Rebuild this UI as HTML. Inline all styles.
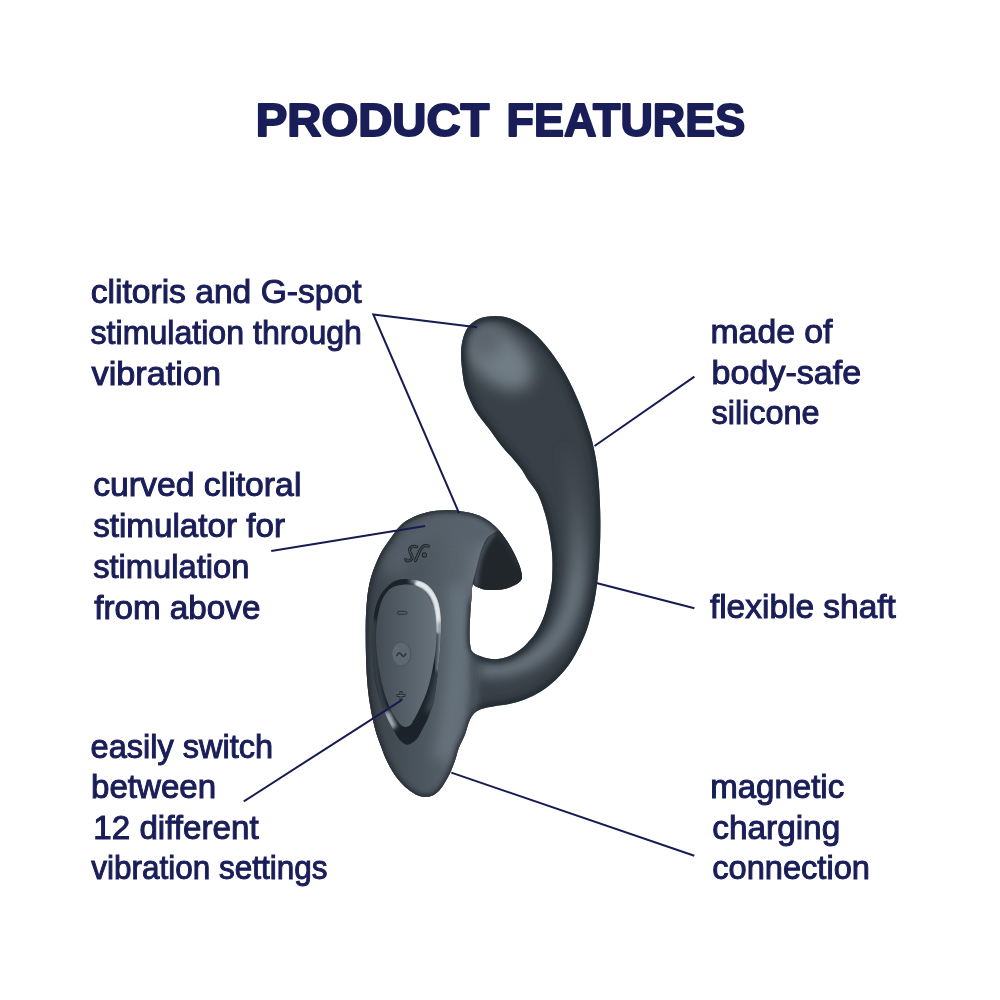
<!DOCTYPE html>
<html><head><meta charset="utf-8"><title>Product Features</title>
<style>
html,body{margin:0;padding:0;background:#fff;}
body{width:1000px;height:1000px;overflow:hidden;}
svg{display:block;}
.ttl{font-family:"Liberation Sans",sans-serif;font-weight:bold;font-size:47px;fill:#1a1e58;stroke:#1a1e58;stroke-width:2px;stroke-linejoin:round;}
.lb{font-family:"Liberation Sans",sans-serif;font-size:32.5px;fill:#1a1e58;stroke:#1a1e58;stroke-width:1px;}
</style></head><body>
<svg width="1000" height="1000" viewBox="0 0 1000 1000">
<defs>
<clipPath id="silc"><path d="M495.0,316.1 C500.3,316.1 505.7,316.9 511.0,318.8 C516.3,320.7 521.9,324.0 527.0,327.6 C532.1,331.2 536.9,335.6 541.4,340.4 C545.9,345.2 550.2,350.8 554.2,356.4 C558.2,362.0 561.9,367.9 565.4,374.0 C568.9,380.1 572.1,386.8 575.0,393.2 C577.9,399.6 580.6,406.0 583.0,412.4 C585.4,418.8 587.6,425.8 589.4,431.6 C591.2,437.4 592.3,441.3 593.6,447.2 C594.9,453.1 596.2,459.2 597.2,467.0 C598.2,474.8 599.0,485.0 599.5,494.0 C600.0,503.0 600.3,512.0 600.4,521.0 C600.5,530.0 600.3,539.0 599.9,548.0 C599.5,557.0 599.0,566.5 598.1,575.0 C597.2,583.5 596.0,592.2 594.8,599.0 C593.6,605.8 592.3,610.5 590.8,616.0 C589.3,621.5 588.1,626.4 586.0,632.0 C583.9,637.6 580.9,644.0 578.0,649.6 C575.1,655.2 572.1,660.5 568.4,665.6 C564.7,670.7 560.1,675.7 555.6,680.0 C551.1,684.3 546.3,688.0 541.2,691.2 C536.1,694.4 530.5,697.1 525.2,699.2 C519.9,701.3 514.5,702.8 509.2,704.0 C503.9,705.2 497.7,705.6 493.2,706.4 C488.7,707.2 485.2,707.6 482.0,708.8 C478.8,710.0 476.1,711.5 474.0,713.6 C471.9,715.7 470.7,718.2 469.2,721.6 C467.7,725.0 466.9,729.6 465.2,734.0 C463.5,738.4 460.5,743.7 458.8,748.0 C457.1,752.3 456.5,756.3 455.2,760.0 C453.9,763.7 452.5,767.3 451.2,770.4 C449.9,773.5 448.7,775.7 447.2,778.4 C445.7,781.1 444.1,784.0 442.4,786.4 C440.7,788.8 438.7,791.2 436.8,792.8 C434.9,794.4 433.2,795.3 431.2,796.0 C429.2,796.7 427.1,796.9 424.8,796.8 C422.5,796.7 420.1,796.3 417.6,795.2 C415.1,794.1 412.4,792.5 409.6,790.4 C406.8,788.3 403.6,785.5 400.8,782.4 C398.0,779.3 395.2,775.7 392.8,772.0 C390.4,768.3 388.3,764.0 386.4,760.0 C384.5,756.0 383.5,753.3 381.6,748.0 C379.7,742.7 376.8,735.8 374.8,728.0 C372.8,720.2 370.8,710.0 369.4,701.0 C368.0,692.0 367.3,683.0 366.7,674.0 C366.1,665.0 365.9,656.0 365.8,647.0 C365.7,638.0 365.6,627.8 365.8,620.0 C366.0,612.2 366.5,605.3 367.0,600.0 C367.5,594.7 367.9,592.0 368.6,588.0 C369.3,584.0 370.2,580.0 371.4,576.0 C372.6,572.0 374.1,568.0 375.8,564.0 C377.5,560.0 379.1,556.0 381.4,552.0 C383.7,548.0 386.2,544.5 389.4,540.0 C392.6,535.5 396.7,529.1 400.8,525.2 C404.9,521.3 409.4,519.0 414.0,516.8 C418.6,514.6 423.4,513.1 428.4,512.0 C433.4,510.9 439.1,510.4 444.0,510.2 C448.9,510.0 452.7,510.1 458.0,510.8 C463.3,511.5 471.0,512.8 476.0,514.4 C481.0,516.0 484.4,518.0 488.0,520.4 C491.6,522.8 494.6,525.6 497.6,528.8 C500.6,532.0 503.4,535.8 506.0,539.6 C508.6,543.4 511.0,547.4 513.2,551.6 C515.4,555.8 517.8,561.0 519.2,564.8 C520.6,568.6 521.4,571.9 521.8,574.4 C522.2,576.9 522.2,577.9 521.4,579.5 C520.6,581.1 519.2,582.5 516.8,584.0 C514.4,585.5 510.8,587.2 507.2,588.2 C503.6,589.2 499.0,589.8 495.2,590.0 C491.4,590.2 487.6,590.0 484.4,589.4 C481.2,588.8 478.0,587.2 476.0,586.4 C474.0,585.6 473.3,582.9 472.6,584.5 C471.9,586.1 471.9,592.1 471.6,596.0 C471.3,599.9 470.9,604.0 470.6,608.0 C470.3,612.0 470.2,615.8 470.0,620.0 C469.8,624.2 469.6,628.8 469.6,633.0 C469.6,637.2 469.7,641.8 470.2,645.0 C470.7,648.2 470.6,650.0 472.6,652.0 C474.6,654.0 478.3,655.6 482.0,656.8 C485.7,658.0 490.5,659.2 494.8,659.2 C499.1,659.2 503.3,658.4 507.6,656.8 C511.9,655.2 516.5,652.6 520.4,649.6 C524.3,646.6 528.1,642.3 531.0,639.0 C533.9,635.7 535.6,633.2 537.5,630.0 C539.4,626.8 541.1,623.3 542.5,620.0 C543.9,616.7 545.0,613.5 546.0,610.0 C547.0,606.5 548.0,602.7 548.8,599.0 C549.6,595.3 550.4,591.7 551.0,588.0 C551.6,584.3 552.0,582.3 552.2,576.8 C552.4,571.3 552.7,562.4 552.2,555.2 C551.8,548.0 550.7,540.5 549.5,533.6 C548.3,526.7 547.0,520.4 545.0,513.8 C543.0,507.2 540.6,499.6 537.8,494.0 C535.0,488.4 530.6,484.0 528.0,480.0 C525.4,476.0 524.3,473.3 522.0,470.0 C519.7,466.7 516.8,463.3 514.0,460.0 C511.2,456.7 507.8,453.3 505.0,450.0 C502.2,446.7 499.5,443.3 497.0,440.0 C494.5,436.7 492.5,433.3 490.0,430.0 C487.5,426.7 484.5,423.3 482.0,420.0 C479.5,416.7 477.0,413.3 475.0,410.0 C473.0,406.7 471.5,403.3 470.0,400.0 C468.5,396.7 467.1,393.3 466.0,390.0 C464.9,386.7 464.3,385.3 463.5,380.0 C462.7,374.7 461.3,364.3 461.1,358.0 C460.9,351.7 461.1,347.1 462.2,342.0 C463.3,336.9 465.0,331.5 467.8,327.6 C470.6,323.7 474.5,320.7 479.0,318.8 C483.5,316.9 489.7,316.1 495.0,316.1Z"/></clipPath>
<clipPath id="rimc"><path d="M408.0,579.0 C412.2,579.0 416.3,579.7 420.0,581.0 C423.7,582.3 427.2,584.2 430.0,587.0 C432.8,589.8 435.2,593.8 437.0,598.0 C438.8,602.2 439.8,606.7 440.5,612.0 C441.2,617.3 441.1,623.7 441.0,630.0 C440.9,636.3 440.5,643.3 440.0,650.0 C439.5,656.7 439.0,661.7 438.0,670.0 C437.0,678.3 435.7,692.0 434.0,700.0 C432.3,708.0 430.3,712.3 428.0,718.0 C425.7,723.7 421.9,730.4 420.0,734.0 C418.1,737.6 417.6,738.0 416.3,739.5 C415.0,741.0 413.3,742.1 412.0,743.0 C410.7,743.9 409.7,744.4 408.5,744.6 C407.3,744.8 406.3,744.6 405.0,744.0 C403.7,743.4 402.1,742.3 400.8,741.0 C399.5,739.7 399.1,739.5 397.0,736.0 C394.9,732.5 390.8,726.0 388.0,720.0 C385.2,714.0 382.2,706.7 380.0,700.0 C377.8,693.3 376.2,687.5 375.0,680.0 C373.8,672.5 373.4,662.5 373.0,655.0 C372.6,647.5 372.3,641.7 372.5,635.0 C372.7,628.3 373.1,620.8 374.0,615.0 C374.9,609.2 376.2,604.3 378.0,600.0 C379.8,595.7 382.2,592.2 385.0,589.0 C387.8,585.8 391.2,582.7 395.0,581.0 C398.8,579.3 403.8,579.0 408.0,579.0Z"/></clipPath>
<mask id="shaftm" maskUnits="userSpaceOnUse" x="340" y="270" width="320" height="560"><rect x="340" y="270" width="320" height="560" fill="#000"/><path d="M440,270 L660,270 L660,740 L476,740 L476,640 L535,600 L530,480 L440,440Z" fill="#fff" filter="url(#b4)"/></mask>
<mask id="basem" maskUnits="userSpaceOnUse" x="340" y="270" width="320" height="560"><rect x="340" y="270" width="320" height="560" fill="#fff"/><path d="M440,270 L660,270 L660,740 L476,740 L476,640 L535,600 L530,480 L440,440Z" fill="#000" filter="url(#b4)"/></mask>
<clipPath id="underc"><path d="M492.8,533.6 C495.0,532.4 497.8,530.0 500.0,531.0 C502.2,532.0 503.8,536.2 506.0,539.6 C508.2,543.0 511.0,547.4 513.2,551.6 C515.4,555.8 517.8,561.0 519.2,564.8 C520.6,568.6 521.4,571.9 521.8,574.4 C522.2,576.9 522.2,577.9 521.4,579.5 C520.6,581.1 519.2,582.5 516.8,584.0 C514.4,585.5 510.8,587.2 507.2,588.2 C503.6,589.2 499.0,589.8 495.2,590.0 C491.4,590.2 487.6,590.0 484.4,589.4 C481.2,588.8 478.0,587.2 476.0,586.4 C474.0,585.6 472.7,586.9 472.6,584.5 C472.5,582.1 474.4,576.1 475.4,572.0 C476.4,567.9 477.3,564.0 478.4,560.0 C479.5,556.0 480.6,551.6 482.0,548.0 C483.4,544.4 485.0,540.8 486.8,538.4 C488.6,536.0 490.6,534.8 492.8,533.6Z"/></clipPath>
<filter id="b1" x="-150%" y="-150%" width="400%" height="400%"><feGaussianBlur stdDeviation="0.9"/></filter>
<filter id="b2" x="-150%" y="-150%" width="400%" height="400%"><feGaussianBlur stdDeviation="2"/></filter>
<filter id="b3" x="-150%" y="-150%" width="400%" height="400%"><feGaussianBlur stdDeviation="3"/></filter>
<filter id="b4" x="-150%" y="-150%" width="400%" height="400%"><feGaussianBlur stdDeviation="4"/></filter>
<filter id="b6" x="-150%" y="-150%" width="400%" height="400%"><feGaussianBlur stdDeviation="6"/></filter>
<filter id="b8" x="-150%" y="-150%" width="400%" height="400%"><feGaussianBlur stdDeviation="8"/></filter>
<filter id="b10" x="-150%" y="-150%" width="400%" height="400%"><feGaussianBlur stdDeviation="10"/></filter>
<linearGradient id="baseg" gradientUnits="userSpaceOnUse" x1="366" y1="0" x2="478" y2="0"><stop offset="0" stop-color="#394148"/><stop offset="0.45" stop-color="#4a545c"/><stop offset="1" stop-color="#606b74"/></linearGradient>
<linearGradient id="bandg" gradientUnits="userSpaceOnUse" x1="0" y1="440" x2="0" y2="585"><stop offset="0" stop-color="#66727b" stop-opacity="0"/><stop offset="0.45" stop-color="#66727b" stop-opacity="0.3"/><stop offset="1" stop-color="#66727b" stop-opacity="1"/></linearGradient>
<linearGradient id="pang" gradientUnits="userSpaceOnUse" x1="376" y1="0" x2="437" y2="0"><stop offset="0" stop-color="#434c55"/><stop offset="1" stop-color="#68737c"/></linearGradient>
</defs>
<rect width="1000" height="1000" fill="#fff"/>
<path d="M495.0,316.1 C500.3,316.1 505.7,316.9 511.0,318.8 C516.3,320.7 521.9,324.0 527.0,327.6 C532.1,331.2 536.9,335.6 541.4,340.4 C545.9,345.2 550.2,350.8 554.2,356.4 C558.2,362.0 561.9,367.9 565.4,374.0 C568.9,380.1 572.1,386.8 575.0,393.2 C577.9,399.6 580.6,406.0 583.0,412.4 C585.4,418.8 587.6,425.8 589.4,431.6 C591.2,437.4 592.3,441.3 593.6,447.2 C594.9,453.1 596.2,459.2 597.2,467.0 C598.2,474.8 599.0,485.0 599.5,494.0 C600.0,503.0 600.3,512.0 600.4,521.0 C600.5,530.0 600.3,539.0 599.9,548.0 C599.5,557.0 599.0,566.5 598.1,575.0 C597.2,583.5 596.0,592.2 594.8,599.0 C593.6,605.8 592.3,610.5 590.8,616.0 C589.3,621.5 588.1,626.4 586.0,632.0 C583.9,637.6 580.9,644.0 578.0,649.6 C575.1,655.2 572.1,660.5 568.4,665.6 C564.7,670.7 560.1,675.7 555.6,680.0 C551.1,684.3 546.3,688.0 541.2,691.2 C536.1,694.4 530.5,697.1 525.2,699.2 C519.9,701.3 514.5,702.8 509.2,704.0 C503.9,705.2 497.7,705.6 493.2,706.4 C488.7,707.2 485.2,707.6 482.0,708.8 C478.8,710.0 476.1,711.5 474.0,713.6 C471.9,715.7 470.7,718.2 469.2,721.6 C467.7,725.0 466.9,729.6 465.2,734.0 C463.5,738.4 460.5,743.7 458.8,748.0 C457.1,752.3 456.5,756.3 455.2,760.0 C453.9,763.7 452.5,767.3 451.2,770.4 C449.9,773.5 448.7,775.7 447.2,778.4 C445.7,781.1 444.1,784.0 442.4,786.4 C440.7,788.8 438.7,791.2 436.8,792.8 C434.9,794.4 433.2,795.3 431.2,796.0 C429.2,796.7 427.1,796.9 424.8,796.8 C422.5,796.7 420.1,796.3 417.6,795.2 C415.1,794.1 412.4,792.5 409.6,790.4 C406.8,788.3 403.6,785.5 400.8,782.4 C398.0,779.3 395.2,775.7 392.8,772.0 C390.4,768.3 388.3,764.0 386.4,760.0 C384.5,756.0 383.5,753.3 381.6,748.0 C379.7,742.7 376.8,735.8 374.8,728.0 C372.8,720.2 370.8,710.0 369.4,701.0 C368.0,692.0 367.3,683.0 366.7,674.0 C366.1,665.0 365.9,656.0 365.8,647.0 C365.7,638.0 365.6,627.8 365.8,620.0 C366.0,612.2 366.5,605.3 367.0,600.0 C367.5,594.7 367.9,592.0 368.6,588.0 C369.3,584.0 370.2,580.0 371.4,576.0 C372.6,572.0 374.1,568.0 375.8,564.0 C377.5,560.0 379.1,556.0 381.4,552.0 C383.7,548.0 386.2,544.5 389.4,540.0 C392.6,535.5 396.7,529.1 400.8,525.2 C404.9,521.3 409.4,519.0 414.0,516.8 C418.6,514.6 423.4,513.1 428.4,512.0 C433.4,510.9 439.1,510.4 444.0,510.2 C448.9,510.0 452.7,510.1 458.0,510.8 C463.3,511.5 471.0,512.8 476.0,514.4 C481.0,516.0 484.4,518.0 488.0,520.4 C491.6,522.8 494.6,525.6 497.6,528.8 C500.6,532.0 503.4,535.8 506.0,539.6 C508.6,543.4 511.0,547.4 513.2,551.6 C515.4,555.8 517.8,561.0 519.2,564.8 C520.6,568.6 521.4,571.9 521.8,574.4 C522.2,576.9 522.2,577.9 521.4,579.5 C520.6,581.1 519.2,582.5 516.8,584.0 C514.4,585.5 510.8,587.2 507.2,588.2 C503.6,589.2 499.0,589.8 495.2,590.0 C491.4,590.2 487.6,590.0 484.4,589.4 C481.2,588.8 478.0,587.2 476.0,586.4 C474.0,585.6 473.3,582.9 472.6,584.5 C471.9,586.1 471.9,592.1 471.6,596.0 C471.3,599.9 470.9,604.0 470.6,608.0 C470.3,612.0 470.2,615.8 470.0,620.0 C469.8,624.2 469.6,628.8 469.6,633.0 C469.6,637.2 469.7,641.8 470.2,645.0 C470.7,648.2 470.6,650.0 472.6,652.0 C474.6,654.0 478.3,655.6 482.0,656.8 C485.7,658.0 490.5,659.2 494.8,659.2 C499.1,659.2 503.3,658.4 507.6,656.8 C511.9,655.2 516.5,652.6 520.4,649.6 C524.3,646.6 528.1,642.3 531.0,639.0 C533.9,635.7 535.6,633.2 537.5,630.0 C539.4,626.8 541.1,623.3 542.5,620.0 C543.9,616.7 545.0,613.5 546.0,610.0 C547.0,606.5 548.0,602.7 548.8,599.0 C549.6,595.3 550.4,591.7 551.0,588.0 C551.6,584.3 552.0,582.3 552.2,576.8 C552.4,571.3 552.7,562.4 552.2,555.2 C551.8,548.0 550.7,540.5 549.5,533.6 C548.3,526.7 547.0,520.4 545.0,513.8 C543.0,507.2 540.6,499.6 537.8,494.0 C535.0,488.4 530.6,484.0 528.0,480.0 C525.4,476.0 524.3,473.3 522.0,470.0 C519.7,466.7 516.8,463.3 514.0,460.0 C511.2,456.7 507.8,453.3 505.0,450.0 C502.2,446.7 499.5,443.3 497.0,440.0 C494.5,436.7 492.5,433.3 490.0,430.0 C487.5,426.7 484.5,423.3 482.0,420.0 C479.5,416.7 477.0,413.3 475.0,410.0 C473.0,406.7 471.5,403.3 470.0,400.0 C468.5,396.7 467.1,393.3 466.0,390.0 C464.9,386.7 464.3,385.3 463.5,380.0 C462.7,374.7 461.3,364.3 461.1,358.0 C460.9,351.7 461.1,347.1 462.2,342.0 C463.3,336.9 465.0,331.5 467.8,327.6 C470.6,323.7 474.5,320.7 479.0,318.8 C483.5,316.9 489.7,316.1 495.0,316.1Z" fill="#394047"/>
<g clip-path="url(#silc)">
<g mask="url(#basem)"><rect x="350" y="490" width="190" height="330" fill="url(#baseg)"/></g>
<ellipse cx="499" cy="358" rx="40" ry="25" transform="rotate(42 499 358)" fill="#717d85" filter="url(#b8)"/>
<ellipse cx="484" cy="338" rx="18" ry="20" fill="#5b656d" filter="url(#b8)"/>
<path d="M562,430 C570,460 576,495 577.5,530 C579,555 579,577 573,600 C566,628 550,650 528,661 C512,668 495,670 480,668" fill="none" stroke="url(#bandg)" stroke-width="18" filter="url(#b6)"/>
<path d="M392,575 C400,540 430,522 458,524 C474,526 484,534 488,548 C488,560 476,580 474,600" fill="none" stroke="#56616a" stroke-width="22" filter="url(#b8)"/>
<path d="M460,585 C461,650 458,700 444,760" fill="none" stroke="#65717a" stroke-width="22" filter="url(#b6)"/>
<path d="M473,655 C474,680 474,700 470,715" fill="none" stroke="#394148" stroke-width="4" filter="url(#b3)"/>
<g mask="url(#shaftm)"><path d="M495.0,316.1 C500.3,316.1 505.7,316.9 511.0,318.8 C516.3,320.7 521.9,324.0 527.0,327.6 C532.1,331.2 536.9,335.6 541.4,340.4 C545.9,345.2 550.2,350.8 554.2,356.4 C558.2,362.0 561.9,367.9 565.4,374.0 C568.9,380.1 572.1,386.8 575.0,393.2 C577.9,399.6 580.6,406.0 583.0,412.4 C585.4,418.8 587.6,425.8 589.4,431.6 C591.2,437.4 592.3,441.3 593.6,447.2 C594.9,453.1 596.2,459.2 597.2,467.0 C598.2,474.8 599.0,485.0 599.5,494.0 C600.0,503.0 600.3,512.0 600.4,521.0 C600.5,530.0 600.3,539.0 599.9,548.0 C599.5,557.0 599.0,566.5 598.1,575.0 C597.2,583.5 596.0,592.2 594.8,599.0 C593.6,605.8 592.3,610.5 590.8,616.0 C589.3,621.5 588.1,626.4 586.0,632.0 C583.9,637.6 580.9,644.0 578.0,649.6 C575.1,655.2 572.1,660.5 568.4,665.6 C564.7,670.7 560.1,675.7 555.6,680.0 C551.1,684.3 546.3,688.0 541.2,691.2 C536.1,694.4 530.5,697.1 525.2,699.2 C519.9,701.3 514.5,702.8 509.2,704.0 C503.9,705.2 497.7,705.6 493.2,706.4 C488.7,707.2 485.2,707.6 482.0,708.8 C478.8,710.0 476.1,711.5 474.0,713.6 C471.9,715.7 470.7,718.2 469.2,721.6 C467.7,725.0 466.9,729.6 465.2,734.0 C463.5,738.4 460.5,743.7 458.8,748.0 C457.1,752.3 456.5,756.3 455.2,760.0 C453.9,763.7 452.5,767.3 451.2,770.4 C449.9,773.5 448.7,775.7 447.2,778.4 C445.7,781.1 444.1,784.0 442.4,786.4 C440.7,788.8 438.7,791.2 436.8,792.8 C434.9,794.4 433.2,795.3 431.2,796.0 C429.2,796.7 427.1,796.9 424.8,796.8 C422.5,796.7 420.1,796.3 417.6,795.2 C415.1,794.1 412.4,792.5 409.6,790.4 C406.8,788.3 403.6,785.5 400.8,782.4 C398.0,779.3 395.2,775.7 392.8,772.0 C390.4,768.3 388.3,764.0 386.4,760.0 C384.5,756.0 383.5,753.3 381.6,748.0 C379.7,742.7 376.8,735.8 374.8,728.0 C372.8,720.2 370.8,710.0 369.4,701.0 C368.0,692.0 367.3,683.0 366.7,674.0 C366.1,665.0 365.9,656.0 365.8,647.0 C365.7,638.0 365.6,627.8 365.8,620.0 C366.0,612.2 366.5,605.3 367.0,600.0 C367.5,594.7 367.9,592.0 368.6,588.0 C369.3,584.0 370.2,580.0 371.4,576.0 C372.6,572.0 374.1,568.0 375.8,564.0 C377.5,560.0 379.1,556.0 381.4,552.0 C383.7,548.0 386.2,544.5 389.4,540.0 C392.6,535.5 396.7,529.1 400.8,525.2 C404.9,521.3 409.4,519.0 414.0,516.8 C418.6,514.6 423.4,513.1 428.4,512.0 C433.4,510.9 439.1,510.4 444.0,510.2 C448.9,510.0 452.7,510.1 458.0,510.8 C463.3,511.5 471.0,512.8 476.0,514.4 C481.0,516.0 484.4,518.0 488.0,520.4 C491.6,522.8 494.6,525.6 497.6,528.8 C500.6,532.0 503.4,535.8 506.0,539.6 C508.6,543.4 511.0,547.4 513.2,551.6 C515.4,555.8 517.8,561.0 519.2,564.8 C520.6,568.6 521.4,571.9 521.8,574.4 C522.2,576.9 522.2,577.9 521.4,579.5 C520.6,581.1 519.2,582.5 516.8,584.0 C514.4,585.5 510.8,587.2 507.2,588.2 C503.6,589.2 499.0,589.8 495.2,590.0 C491.4,590.2 487.6,590.0 484.4,589.4 C481.2,588.8 478.0,587.2 476.0,586.4 C474.0,585.6 473.3,582.9 472.6,584.5 C471.9,586.1 471.9,592.1 471.6,596.0 C471.3,599.9 470.9,604.0 470.6,608.0 C470.3,612.0 470.2,615.8 470.0,620.0 C469.8,624.2 469.6,628.8 469.6,633.0 C469.6,637.2 469.7,641.8 470.2,645.0 C470.7,648.2 470.6,650.0 472.6,652.0 C474.6,654.0 478.3,655.6 482.0,656.8 C485.7,658.0 490.5,659.2 494.8,659.2 C499.1,659.2 503.3,658.4 507.6,656.8 C511.9,655.2 516.5,652.6 520.4,649.6 C524.3,646.6 528.1,642.3 531.0,639.0 C533.9,635.7 535.6,633.2 537.5,630.0 C539.4,626.8 541.1,623.3 542.5,620.0 C543.9,616.7 545.0,613.5 546.0,610.0 C547.0,606.5 548.0,602.7 548.8,599.0 C549.6,595.3 550.4,591.7 551.0,588.0 C551.6,584.3 552.0,582.3 552.2,576.8 C552.4,571.3 552.7,562.4 552.2,555.2 C551.8,548.0 550.7,540.5 549.5,533.6 C548.3,526.7 547.0,520.4 545.0,513.8 C543.0,507.2 540.6,499.6 537.8,494.0 C535.0,488.4 530.6,484.0 528.0,480.0 C525.4,476.0 524.3,473.3 522.0,470.0 C519.7,466.7 516.8,463.3 514.0,460.0 C511.2,456.7 507.8,453.3 505.0,450.0 C502.2,446.7 499.5,443.3 497.0,440.0 C494.5,436.7 492.5,433.3 490.0,430.0 C487.5,426.7 484.5,423.3 482.0,420.0 C479.5,416.7 477.0,413.3 475.0,410.0 C473.0,406.7 471.5,403.3 470.0,400.0 C468.5,396.7 467.1,393.3 466.0,390.0 C464.9,386.7 464.3,385.3 463.5,380.0 C462.7,374.7 461.3,364.3 461.1,358.0 C460.9,351.7 461.1,347.1 462.2,342.0 C463.3,336.9 465.0,331.5 467.8,327.6 C470.6,323.7 474.5,320.7 479.0,318.8 C483.5,316.9 489.7,316.1 495.0,316.1Z" fill="none" stroke="#242a30" stroke-width="9" filter="url(#b3)"/></g>
<g mask="url(#basem)"><path d="M495.0,316.1 C500.3,316.1 505.7,316.9 511.0,318.8 C516.3,320.7 521.9,324.0 527.0,327.6 C532.1,331.2 536.9,335.6 541.4,340.4 C545.9,345.2 550.2,350.8 554.2,356.4 C558.2,362.0 561.9,367.9 565.4,374.0 C568.9,380.1 572.1,386.8 575.0,393.2 C577.9,399.6 580.6,406.0 583.0,412.4 C585.4,418.8 587.6,425.8 589.4,431.6 C591.2,437.4 592.3,441.3 593.6,447.2 C594.9,453.1 596.2,459.2 597.2,467.0 C598.2,474.8 599.0,485.0 599.5,494.0 C600.0,503.0 600.3,512.0 600.4,521.0 C600.5,530.0 600.3,539.0 599.9,548.0 C599.5,557.0 599.0,566.5 598.1,575.0 C597.2,583.5 596.0,592.2 594.8,599.0 C593.6,605.8 592.3,610.5 590.8,616.0 C589.3,621.5 588.1,626.4 586.0,632.0 C583.9,637.6 580.9,644.0 578.0,649.6 C575.1,655.2 572.1,660.5 568.4,665.6 C564.7,670.7 560.1,675.7 555.6,680.0 C551.1,684.3 546.3,688.0 541.2,691.2 C536.1,694.4 530.5,697.1 525.2,699.2 C519.9,701.3 514.5,702.8 509.2,704.0 C503.9,705.2 497.7,705.6 493.2,706.4 C488.7,707.2 485.2,707.6 482.0,708.8 C478.8,710.0 476.1,711.5 474.0,713.6 C471.9,715.7 470.7,718.2 469.2,721.6 C467.7,725.0 466.9,729.6 465.2,734.0 C463.5,738.4 460.5,743.7 458.8,748.0 C457.1,752.3 456.5,756.3 455.2,760.0 C453.9,763.7 452.5,767.3 451.2,770.4 C449.9,773.5 448.7,775.7 447.2,778.4 C445.7,781.1 444.1,784.0 442.4,786.4 C440.7,788.8 438.7,791.2 436.8,792.8 C434.9,794.4 433.2,795.3 431.2,796.0 C429.2,796.7 427.1,796.9 424.8,796.8 C422.5,796.7 420.1,796.3 417.6,795.2 C415.1,794.1 412.4,792.5 409.6,790.4 C406.8,788.3 403.6,785.5 400.8,782.4 C398.0,779.3 395.2,775.7 392.8,772.0 C390.4,768.3 388.3,764.0 386.4,760.0 C384.5,756.0 383.5,753.3 381.6,748.0 C379.7,742.7 376.8,735.8 374.8,728.0 C372.8,720.2 370.8,710.0 369.4,701.0 C368.0,692.0 367.3,683.0 366.7,674.0 C366.1,665.0 365.9,656.0 365.8,647.0 C365.7,638.0 365.6,627.8 365.8,620.0 C366.0,612.2 366.5,605.3 367.0,600.0 C367.5,594.7 367.9,592.0 368.6,588.0 C369.3,584.0 370.2,580.0 371.4,576.0 C372.6,572.0 374.1,568.0 375.8,564.0 C377.5,560.0 379.1,556.0 381.4,552.0 C383.7,548.0 386.2,544.5 389.4,540.0 C392.6,535.5 396.7,529.1 400.8,525.2 C404.9,521.3 409.4,519.0 414.0,516.8 C418.6,514.6 423.4,513.1 428.4,512.0 C433.4,510.9 439.1,510.4 444.0,510.2 C448.9,510.0 452.7,510.1 458.0,510.8 C463.3,511.5 471.0,512.8 476.0,514.4 C481.0,516.0 484.4,518.0 488.0,520.4 C491.6,522.8 494.6,525.6 497.6,528.8 C500.6,532.0 503.4,535.8 506.0,539.6 C508.6,543.4 511.0,547.4 513.2,551.6 C515.4,555.8 517.8,561.0 519.2,564.8 C520.6,568.6 521.4,571.9 521.8,574.4 C522.2,576.9 522.2,577.9 521.4,579.5 C520.6,581.1 519.2,582.5 516.8,584.0 C514.4,585.5 510.8,587.2 507.2,588.2 C503.6,589.2 499.0,589.8 495.2,590.0 C491.4,590.2 487.6,590.0 484.4,589.4 C481.2,588.8 478.0,587.2 476.0,586.4 C474.0,585.6 473.3,582.9 472.6,584.5 C471.9,586.1 471.9,592.1 471.6,596.0 C471.3,599.9 470.9,604.0 470.6,608.0 C470.3,612.0 470.2,615.8 470.0,620.0 C469.8,624.2 469.6,628.8 469.6,633.0 C469.6,637.2 469.7,641.8 470.2,645.0 C470.7,648.2 470.6,650.0 472.6,652.0 C474.6,654.0 478.3,655.6 482.0,656.8 C485.7,658.0 490.5,659.2 494.8,659.2 C499.1,659.2 503.3,658.4 507.6,656.8 C511.9,655.2 516.5,652.6 520.4,649.6 C524.3,646.6 528.1,642.3 531.0,639.0 C533.9,635.7 535.6,633.2 537.5,630.0 C539.4,626.8 541.1,623.3 542.5,620.0 C543.9,616.7 545.0,613.5 546.0,610.0 C547.0,606.5 548.0,602.7 548.8,599.0 C549.6,595.3 550.4,591.7 551.0,588.0 C551.6,584.3 552.0,582.3 552.2,576.8 C552.4,571.3 552.7,562.4 552.2,555.2 C551.8,548.0 550.7,540.5 549.5,533.6 C548.3,526.7 547.0,520.4 545.0,513.8 C543.0,507.2 540.6,499.6 537.8,494.0 C535.0,488.4 530.6,484.0 528.0,480.0 C525.4,476.0 524.3,473.3 522.0,470.0 C519.7,466.7 516.8,463.3 514.0,460.0 C511.2,456.7 507.8,453.3 505.0,450.0 C502.2,446.7 499.5,443.3 497.0,440.0 C494.5,436.7 492.5,433.3 490.0,430.0 C487.5,426.7 484.5,423.3 482.0,420.0 C479.5,416.7 477.0,413.3 475.0,410.0 C473.0,406.7 471.5,403.3 470.0,400.0 C468.5,396.7 467.1,393.3 466.0,390.0 C464.9,386.7 464.3,385.3 463.5,380.0 C462.7,374.7 461.3,364.3 461.1,358.0 C460.9,351.7 461.1,347.1 462.2,342.0 C463.3,336.9 465.0,331.5 467.8,327.6 C470.6,323.7 474.5,320.7 479.0,318.8 C483.5,316.9 489.7,316.1 495.0,316.1Z" fill="none" stroke="#262c32" stroke-width="5" filter="url(#b2)"/></g>
<path d="M470,600 C470,580 476,556 486,542" fill="none" stroke="#667079" stroke-width="12" filter="url(#b4)"/>
<path d="M492.8,533.6 C495.0,532.4 497.8,530.0 500.0,531.0 C502.2,532.0 503.8,536.2 506.0,539.6 C508.2,543.0 511.0,547.4 513.2,551.6 C515.4,555.8 517.8,561.0 519.2,564.8 C520.6,568.6 521.4,571.9 521.8,574.4 C522.2,576.9 522.2,577.9 521.4,579.5 C520.6,581.1 519.2,582.5 516.8,584.0 C514.4,585.5 510.8,587.2 507.2,588.2 C503.6,589.2 499.0,589.8 495.2,590.0 C491.4,590.2 487.6,590.0 484.4,589.4 C481.2,588.8 478.0,587.2 476.0,586.4 C474.0,585.6 472.7,586.9 472.6,584.5 C472.5,582.1 474.4,576.1 475.4,572.0 C476.4,567.9 477.3,564.0 478.4,560.0 C479.5,556.0 480.6,551.6 482.0,548.0 C483.4,544.4 485.0,540.8 486.8,538.4 C488.6,536.0 490.6,534.8 492.8,533.6Z" fill="#21262b"/>
<g clip-path="url(#underc)"><path d="M496,530 L510,542 L522,566" fill="none" stroke="#2e353b" stroke-width="6" filter="url(#b3)"/></g>
<path d="M476,586 C476,566 482,546 494,533" fill="none" stroke="#6b7780" stroke-width="2.5" filter="url(#b2)"/>
<g fill="none" stroke="#20262b" stroke-width="3" stroke-linecap="round"><path d="M416.8,546.8 C412,545 408.3,548 410,552 C411.5,555.3 413.8,557 411.2,559.6 C409,561.6 406,561.2 405.6,559.4"/><path d="M428.4,546.2 C424,544.4 421.6,547 420,550.4 L415.4,560.6"/><circle cx="424.4" cy="554.9" r="1.1"/></g>
<g fill="none" stroke="#59646d" stroke-width="0.9" stroke-linecap="round"><path d="M416.8,546.8 C412,545 408.3,548 410,552 C411.5,555.3 413.8,557 411.2,559.6 C409,561.6 406,561.2 405.6,559.4"/><path d="M428.4,546.2 C424,544.4 421.6,547 420,550.4 L415.4,560.6"/><circle cx="424.4" cy="554.9" r="1.1"/></g>
<path d="M408.0,579.0 C412.2,579.0 416.3,579.7 420.0,581.0 C423.7,582.3 427.2,584.2 430.0,587.0 C432.8,589.8 435.2,593.8 437.0,598.0 C438.8,602.2 439.8,606.7 440.5,612.0 C441.2,617.3 441.1,623.7 441.0,630.0 C440.9,636.3 440.5,643.3 440.0,650.0 C439.5,656.7 439.0,661.7 438.0,670.0 C437.0,678.3 435.7,692.0 434.0,700.0 C432.3,708.0 430.3,712.3 428.0,718.0 C425.7,723.7 421.9,730.4 420.0,734.0 C418.1,737.6 417.6,738.0 416.3,739.5 C415.0,741.0 413.3,742.1 412.0,743.0 C410.7,743.9 409.7,744.4 408.5,744.6 C407.3,744.8 406.3,744.6 405.0,744.0 C403.7,743.4 402.1,742.3 400.8,741.0 C399.5,739.7 399.1,739.5 397.0,736.0 C394.9,732.5 390.8,726.0 388.0,720.0 C385.2,714.0 382.2,706.7 380.0,700.0 C377.8,693.3 376.2,687.5 375.0,680.0 C373.8,672.5 373.4,662.5 373.0,655.0 C372.6,647.5 372.3,641.7 372.5,635.0 C372.7,628.3 373.1,620.8 374.0,615.0 C374.9,609.2 376.2,604.3 378.0,600.0 C379.8,595.7 382.2,592.2 385.0,589.0 C387.8,585.8 391.2,582.7 395.0,581.0 C398.8,579.3 403.8,579.0 408.0,579.0Z" fill="#1b2229"/>
<g clip-path="url(#rimc)">
<path d="M410,580 C420,580 426,582 430,586" fill="none" stroke="#77838c" stroke-width="7" filter="url(#b2)"/>
<path d="M418,583.5 C426,585.5 433,593 436,603 C438,610 438.8,620 438.7,630" fill="none" stroke="#e2e8ec" stroke-width="6.5" stroke-linecap="round" filter="url(#b1)"/>
<path d="M441,622 C441.5,640 441,655 439,672" fill="none" stroke="#84909a" stroke-width="7" filter="url(#b2)"/>
<path d="M439,672 C437,690 433,702 429,712" fill="none" stroke="#4a555e" stroke-width="6" filter="url(#b3)"/>
<path d="M373.5,620 C373,660 378,700 390,722" fill="none" stroke="#56616a" stroke-width="2.5" filter="url(#b2)"/>
<path d="M386,712 L394,728" fill="none" stroke="#b4bec6" stroke-width="6" filter="url(#b2)"/>
</g>
<path d="M408.0,584.5 C412.2,584.5 415.4,585.2 418.5,586.8 C421.6,588.4 424.2,591.1 426.5,594.0 C428.8,596.9 430.5,600.5 432.0,604.0 C433.5,607.5 434.6,609.8 435.3,615.0 C436.1,620.2 436.6,628.3 436.5,635.0 C436.4,641.7 436.1,647.5 435.0,655.0 C433.9,662.5 431.9,673.0 430.2,680.0 C428.5,687.0 426.8,691.8 424.8,697.0 C422.8,702.2 420.4,707.2 418.3,711.5 C416.2,715.8 413.8,720.1 412.3,722.5 C410.8,724.9 410.6,725.0 409.5,725.8 C408.4,726.5 407.1,726.9 406.0,727.0 C404.9,727.1 403.8,726.7 402.8,726.2 C401.8,725.7 401.8,726.4 400.0,724.0 C398.2,721.6 394.5,716.8 392.0,712.0 C389.5,707.2 387.0,701.2 385.0,695.0 C383.0,688.8 381.3,681.7 380.0,675.0 C378.7,668.3 377.7,661.7 377.0,655.0 C376.3,648.3 375.8,641.7 376.0,635.0 C376.2,628.3 376.8,621.2 378.0,615.0 C379.2,608.8 380.5,602.7 383.0,598.0 C385.5,593.3 388.8,589.2 393.0,587.0 C397.2,584.8 403.8,584.5 408.0,584.5Z" fill="url(#pang)"/>
<rect x="397.5" y="611.3" width="9.5" height="3" rx="1.5" fill="none" stroke="#2c333a" stroke-width="1"/>
<ellipse cx="401.3" cy="654" rx="9.5" ry="12" fill="#5d6871" stroke="#4b555d" stroke-width="1"/>
<path d="M397,655.5 q2.2,-4.5 4.4,-0.8 t4.4,-0.8" fill="none" stroke="#2c333a" stroke-width="1.6" stroke-linecap="round"/>
<path d="M401,691 v9 M396.5,695.5 h9" fill="none" stroke="#2a3138" stroke-width="3"/>
<path d="M401,692 v7 M397.5,695.5 h7" fill="none" stroke="#5a656e" stroke-width="1"/>
</g>
<line x1="271.2" y1="551.0" x2="425.0" y2="526.0" stroke="#171b52" stroke-width="2"/>
<line x1="243.8" y1="801.4" x2="402.0" y2="699.8" stroke="#171b52" stroke-width="2"/>
<line x1="694.4" y1="376.6" x2="594.5" y2="446.0" stroke="#171b52" stroke-width="2"/>
<line x1="694.4" y1="608.3" x2="596.4" y2="583.0" stroke="#171b52" stroke-width="2"/>
<line x1="694.3" y1="855.8" x2="451.3" y2="772.6" stroke="#171b52" stroke-width="2"/>
<polyline points="477,327.2 373.3,314.5 459,513" fill="none" stroke="#171b52" stroke-width="2" stroke-linejoin="miter"/>
<g style="will-change:opacity" opacity="0.999">
<text y="136.2" class="ttl"><tspan x="255.8" textLength="233.7" lengthAdjust="spacingAndGlyphs">PRODUCT</tspan> <tspan x="506.5" textLength="238.7" lengthAdjust="spacingAndGlyphs">FEATURES</tspan></text>
<text x="90.7" y="303.4" textLength="270.8" lengthAdjust="spacingAndGlyphs" class="lb">clitoris and G-spot</text>
<text x="90.5" y="343.9" textLength="271.5" lengthAdjust="spacingAndGlyphs" class="lb">stimulation through</text>
<text x="91.5" y="385.0" textLength="129.5" lengthAdjust="spacingAndGlyphs" class="lb">vibration</text>
<text x="93.2" y="495.9" textLength="208.2" lengthAdjust="spacingAndGlyphs" class="lb">curved clitoral</text>
<text x="93.2" y="536.6" textLength="191.8" lengthAdjust="spacingAndGlyphs" class="lb">stimulator for</text>
<text x="93.2" y="577.9" textLength="156.2" lengthAdjust="spacingAndGlyphs" class="lb">stimulation</text>
<text x="94.2" y="618.6" textLength="166.2" lengthAdjust="spacingAndGlyphs" class="lb">from above</text>
<text x="90.6" y="758.1" textLength="182.6" lengthAdjust="spacingAndGlyphs" class="lb">easily switch</text>
<text x="91.0" y="798.4" textLength="125.1" lengthAdjust="spacingAndGlyphs" class="lb">between</text>
<text x="93.3" y="838.7" textLength="165.4" lengthAdjust="spacingAndGlyphs" class="lb">12 different</text>
<text x="91.2" y="879.0" textLength="236.3" lengthAdjust="spacingAndGlyphs" class="lb">vibration settings</text>
<text x="710.5" y="343.3" textLength="122.0" lengthAdjust="spacingAndGlyphs" class="lb">made of</text>
<text x="711.6" y="383.6" textLength="149.6" lengthAdjust="spacingAndGlyphs" class="lb">body-safe</text>
<text x="711.5" y="424.1" textLength="108.1" lengthAdjust="spacingAndGlyphs" class="lb">silicone</text>
<text x="709.9" y="617.7" textLength="186.0" lengthAdjust="spacingAndGlyphs" class="lb">flexible shaft</text>
<text x="710.2" y="798.2" textLength="134.0" lengthAdjust="spacingAndGlyphs" class="lb">magnetic</text>
<text x="712.3" y="838.5" textLength="127.9" lengthAdjust="spacingAndGlyphs" class="lb">charging</text>
<text x="712.3" y="879.2" textLength="157.6" lengthAdjust="spacingAndGlyphs" class="lb">connection</text>
</g>
</svg>
</body></html>
